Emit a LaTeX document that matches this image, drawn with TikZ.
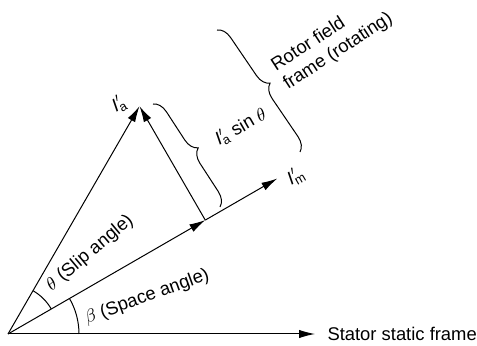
\documentclass[tikz,border=0pt]{standalone}
\usepackage{fontspec}
\setmainfont{Liberation Sans}
\usetikzlibrary{arrows.meta,decorations.pathreplacing}
\begin{document}
\begin{tikzpicture}[x=0.5pt,y=-0.5pt, line width=0.5pt,
  vec/.style={-{Latex[length=8pt,width=4.2pt]}},
  lbl/.style={font=\fontsize{9.2}{11}\selectfont, inner sep=0pt},
  brc/.style={decorate,decoration={brace,amplitude=7pt}}]
\useasboundingbox (0,0) rectangle (477,346);
\coordinate (O) at (8,334);
\coordinate (S) at (315,334);
\path (O) ++(-60:263) coordinate (A);
\path (O) ++(-30:227.8) coordinate (F);
\path (O) ++(-30:311) coordinate (M);
\coordinate (B1s) at (153,104);
\coordinate (B1e) at (220,207);
\coordinate (B2s) at (217,30);
\coordinate (B2e) at (300,152);
% vectors
\draw[vec] (O) -- (S);
\draw[vec] (O) -- (F);
\draw[vec] (F) -- (M);
\draw[vec] (O) -- (A);
\draw[vec] (F) -- (A);
% angle arcs
\draw (O) ++(-30:50) arc (-30:-60:50);
\draw (O) ++(0:71) arc (0:-30:71);
% braces
\draw[brc] (B1s) -- (B1e);
\draw[brc] (B2s) -- (B2e);
% labels
\node[lbl, anchor=west] (st) at (327,334) {Stator static frame};
\node[lbl, rotate=30] (ml) at (296,176) {$\mathit{I}'_{\mathrm{m}}$};
\node[lbl, rotate=30] (al) at (119,104) {$\mathit{I}'_{\mathrm{a}}$};
\node[lbl, rotate=30] (sl) at (241,127) {$\mathit{I}'_{\mathrm{a}}$ sin $\theta$};
\node[lbl, rotate=40] (tl) at (90,253) {$\theta$ (Slip angle)};
\node[lbl, rotate=20] (bl) at (147,297) {$\beta$ (Space angle)};
\node[lbl, rotate=33, anchor=west, align=left] (rl) at (279,77) {Rotor field\\frame (rotating)};
\end{tikzpicture}
\end{document}
